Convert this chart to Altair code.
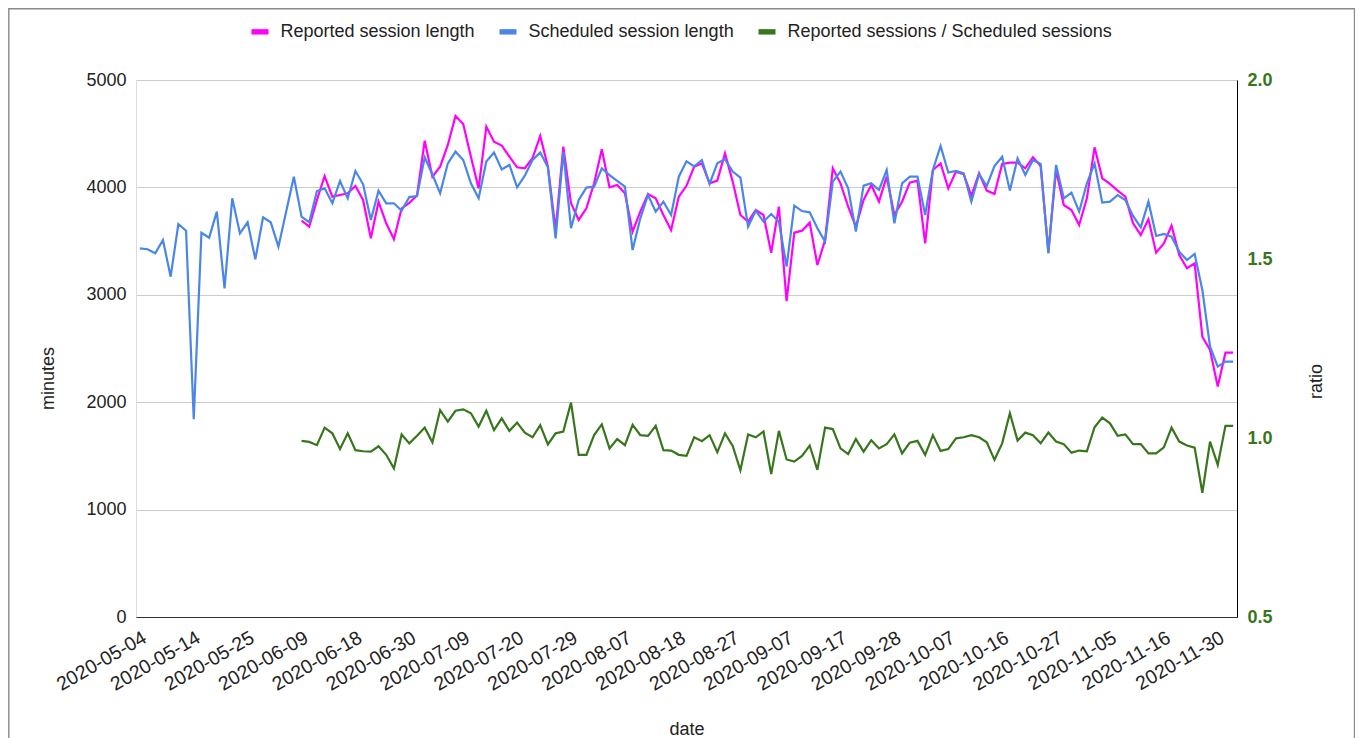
import altair as alt
import pandas as pd

# ---------------- data ----------------
dates = [
    "2020-05-04", "2020-05-05", "2020-05-06", "2020-05-07", "2020-05-08", "2020-05-11", "2020-05-12",
    "2020-05-14", "2020-05-15", "2020-05-18", "2020-05-19", "2020-05-20", "2020-05-21", "2020-05-22",
    "2020-05-25", "2020-05-26", "2020-05-27", "2020-05-28", "2020-06-01", "2020-06-03", "2020-06-05",
    "2020-06-09", "2020-06-10", "2020-06-11", "2020-06-12", "2020-06-15", "2020-06-16", "2020-06-17",
    "2020-06-18", "2020-06-19", "2020-06-22", "2020-06-23", "2020-06-24", "2020-06-25", "2020-06-29",
    "2020-06-30", "2020-07-01", "2020-07-02", "2020-07-03", "2020-07-06", "2020-07-07", "2020-07-08",
    "2020-07-09", "2020-07-10", "2020-07-13", "2020-07-14", "2020-07-15", "2020-07-16", "2020-07-17",
    "2020-07-20", "2020-07-21", "2020-07-22", "2020-07-23", "2020-07-24", "2020-07-27", "2020-07-28",
    "2020-07-29", "2020-07-30", "2020-07-31", "2020-08-03", "2020-08-04", "2020-08-05", "2020-08-06",
    "2020-08-07", "2020-08-10", "2020-08-11", "2020-08-12", "2020-08-13", "2020-08-14", "2020-08-17",
    "2020-08-18", "2020-08-19", "2020-08-20", "2020-08-21", "2020-08-24", "2020-08-25", "2020-08-26",
    "2020-08-27", "2020-08-28", "2020-08-31", "2020-09-01", "2020-09-02", "2020-09-03", "2020-09-04",
    "2020-09-07", "2020-09-08", "2020-09-09", "2020-09-10", "2020-09-11", "2020-09-14", "2020-09-16",
    "2020-09-17", "2020-09-18", "2020-09-21", "2020-09-22", "2020-09-23", "2020-09-24", "2020-09-25",
    "2020-09-28", "2020-09-29", "2020-09-30", "2020-10-01", "2020-10-02", "2020-10-05", "2020-10-06",
    "2020-10-07", "2020-10-08", "2020-10-09", "2020-10-12", "2020-10-13", "2020-10-14", "2020-10-15",
    "2020-10-16", "2020-10-19", "2020-10-20", "2020-10-21", "2020-10-22", "2020-10-23", "2020-10-26",
    "2020-10-27", "2020-10-28", "2020-10-29", "2020-10-30", "2020-11-02", "2020-11-03", "2020-11-04",
    "2020-11-05", "2020-11-06", "2020-11-09", "2020-11-10", "2020-11-11", "2020-11-12", "2020-11-13",
    "2020-11-16", "2020-11-17", "2020-11-18", "2020-11-19", "2020-11-20", "2020-11-23", "2020-11-24",
    "2020-11-30", "2020-12-01", "2020-12-02",
]

x_tick_labels = [
    "2020-05-04", "2020-05-14", "2020-05-25", "2020-06-09", "2020-06-18", "2020-06-30", "2020-07-09",
    "2020-07-20", "2020-07-29", "2020-08-07", "2020-08-18", "2020-08-27", "2020-09-07", "2020-09-17",
    "2020-09-28", "2020-10-07", "2020-10-16", "2020-10-27", "2020-11-05", "2020-11-16", "2020-11-30",
]

scheduled = [
    3433, 3424, 3386, 3510, 3169, 3659, 3597, 1841, 3578, 3532, 3774, 3060, 3898, 3572, 3675, 3330,
    3721, 3675, 3448, 3774, 4100, 3727, 3675, 3966, 3991, 3852, 4060, 3898, 4153, 4029, 3696, 3969,
    3852, 3852, 3783, 3910, 3920, 4280, 4120, 3945, 4224, 4333, 4255, 4038, 3898, 4240, 4324, 4168,
    4209, 4001, 4109, 4255, 4324, 4187, 3526, 4330, 3620, 3883, 3998, 4007, 4178, 4115, 4060, 4007,
    3417, 3712, 3929, 3774, 3867, 3743, 4100, 4243, 4196, 4255, 4032, 4224, 4262, 4147, 4091, 3634,
    3783, 3681, 3752, 3681, 3262, 3830, 3780, 3768, 3619, 3495, 4054, 4147, 3991, 3588, 4016, 4038,
    3976, 4162, 3666, 4038, 4100, 4100, 3743, 4162, 4386, 4138, 4153, 4131, 3867, 4123, 4013, 4199,
    4286, 3970, 4271, 4115, 4255, 4218, 3386, 4209, 3898, 3951, 3774, 4038, 4224, 3858, 3867, 3929,
    3883, 3734, 3628, 3867, 3548, 3566, 3541, 3402, 3324, 3380, 3045, 2517, 2331, 2378, 2378,
]

reported = [None] * 21 + [
    3690, 3634, 3883, 4106, 3914, 3929, 3945, 4013, 3883, 3526, 3867, 3666, 3517, 3805, 3856, 3925,
    4435, 4100, 4193, 4395, 4665, 4591, 4286, 3991, 4566, 4426, 4389, 4286, 4187, 4178, 4271, 4479,
    4193, 3603, 4380, 3852, 3697, 3805, 4038, 4355, 4001, 4023, 3945, 3588, 3774, 3939, 3898, 3743,
    3603, 3914, 4015, 4193, 4224, 4038, 4063, 4317, 4054, 3743, 3681, 3790, 3743, 3392, 3821, 2940,
    3579, 3597, 3672, 3277, 3510, 4178, 4038, 3821, 3634, 3883, 4023, 3867, 4100, 3743, 3867, 4045,
    4063, 3479, 4162, 4224, 3991, 4147, 4123, 3921, 4131, 3970, 3939, 4218, 4230, 4230, 4178, 4280,
    4199, 3400, 4162, 3836, 3790, 3650, 3898, 4373, 4085, 4032, 3970, 3914, 3666, 3557, 3703, 3392,
    3479, 3644, 3371, 3247, 3293, 2610, 2486, 2145, 2461, 2461,
]

ratio = [None] * 21 + [
    0.992, 0.989, 0.980, 1.029, 1.013, 0.969, 1.013, 0.966, 0.963, 0.962, 0.977, 0.953, 0.915, 1.010,
    0.985, 1.006, 1.029, 0.988, 1.078, 1.046, 1.076, 1.080, 1.069, 1.032, 1.076, 1.022, 1.055, 1.020,
    1.043, 1.015, 1.002, 1.036, 0.982, 1.013, 1.018, 1.099, 0.953, 0.953, 1.008, 1.038, 0.971, 0.997,
    0.980, 1.037, 1.008, 1.006, 1.034, 0.966, 0.965, 0.953, 0.950, 1.002, 0.991, 1.008, 0.960, 1.013,
    0.978, 0.910, 1.010, 1.002, 1.018, 0.899, 1.020, 0.940, 0.934, 0.950, 0.979, 0.911, 1.029, 1.025,
    0.971, 0.955, 0.997, 0.962, 0.994, 0.971, 0.983, 1.010, 0.957, 0.987, 0.992, 0.953, 1.008, 0.964,
    0.969, 0.999, 1.002, 1.008, 1.002, 0.988, 0.939, 0.985, 1.069, 0.993, 1.015, 1.008, 0.985, 1.015,
    0.990, 0.983, 0.959, 0.965, 0.963, 1.030, 1.057, 1.041, 1.006, 1.010, 0.983, 0.983, 0.957, 0.957,
    0.974, 1.029, 0.990, 0.979, 0.973, 0.847, 0.990, 0.925, 1.034, 1.034,
]

series_names = [
    "Reported session length",
    "Scheduled session length",
    "Reported sessions / Scheduled sessions",
]
series_colors = ["#ff00ff", "#4a86e8", "#38761d"]

minutes_ticks = [0, 1000, 2000, 3000, 4000, 5000]
ratio_ticks = [0.5, 1.0, 1.5, 2.0]

df = pd.DataFrame({"date": dates, "reported": reported, "scheduled": scheduled, "ratio": ratio})

# ---------------- style ----------------
FONT = "Liberation Sans"
TXT = "#222222"
W, H = 1101, 537

x_enc = alt.X(
    "date:O",
    sort=None,
    scale=alt.Scale(type="point", padding=0.5, domain=dates),
    axis=alt.Axis(
        values=x_tick_labels,
        labelAngle=330,
        labelAlign="right",
        labelBaseline="top",
        labelPadding=11,
        labelFont=FONT,
        labelFontSize=19.5,
        labelColor=TXT,
        ticks=False,
        grid=False,
        domain=True,
        domainColor="#333333",
        domainWidth=1,
        title="date",
        titleFont=FONT,
        titleFontSize=18,
        titleFontWeight="normal",
        titleColor=TXT,
        titleX=W / 2,
        titleY=112,
        titleBaseline="middle",
    ),
)

left_scale = alt.Scale(domain=[0, 5000], nice=False)
left_axis = alt.Axis(
    values=minutes_ticks,
    format="d",
    labelFont=FONT,
    labelFontSize=18,
    labelColor=TXT,
    labelPadding=10,
    ticks=False,
    domain=False,
    grid=True,
    gridColor="#cccccc",
    gridWidth=1,
    title="minutes",
    titleFont=FONT,
    titleFontSize=18,
    titleFontWeight="normal",
    titleColor=TXT,
    titleX=-88,
    titleY=298,
    titleAngle=270,
    titleBaseline="middle",
)

right_scale = alt.Scale(domain=[0.5, 2.0], nice=False)
right_axis = alt.Axis(
    orient="right",
    values=ratio_ticks,
    format=".1f",
    labelFont=FONT,
    labelFontSize=18,
    labelFontWeight="bold",
    labelColor="#38761d",
    labelPadding=10,
    ticks=False,
    domain=True,
    domainColor="#000000",
    domainWidth=1,
    grid=False,
    title="ratio",
    titleFont=FONT,
    titleFontSize=18,
    titleFontWeight="normal",
    titleColor=TXT,
    titleX=79,
    titleY=301,
    titleAngle=270,
    titleBaseline="middle",
)

color_enc = alt.Color(
    "series:N",
    scale=alt.Scale(domain=series_names, range=series_colors),
    legend=alt.Legend(
        title=None,
        orient="none",
        direction="horizontal",
        legendX=112.5,
        legendY=-60,
        padding=0,
        symbolType="stroke",
        symbolSize=289,
        symbolStrokeWidth=5.4,
        symbolOpacity=1,
        labelFont=FONT,
        labelFontSize=18,
        labelColor=TXT,
        labelOffset=9,
        labelLimit=0,
        columnPadding=13,
    ),
)

base = alt.Chart(df)

rep_line = (
    base.transform_filter("isValid(datum.reported)")
    .transform_calculate(series="'Reported session length'")
    .mark_line(strokeWidth=2.2)
    .encode(x=x_enc, y=alt.Y("reported:Q", scale=left_scale, axis=left_axis), color=color_enc)
)
sch_line = (
    base.transform_calculate(series="'Scheduled session length'")
    .mark_line(strokeWidth=2.2)
    .encode(x=x_enc, y=alt.Y("scheduled:Q", scale=left_scale, axis=left_axis), color=color_enc)
)
left_layer = alt.layer(rep_line, sch_line)

ratio_line = (
    base.transform_filter("isValid(datum.ratio)")
    .transform_calculate(series="'Reported sessions / Scheduled sessions'")
    .mark_line(strokeWidth=2.2)
    .encode(x=x_enc, y=alt.Y("ratio:Q", scale=right_scale, axis=right_axis), color=color_enc)
)

frame = (
    alt.Chart(pd.DataFrame({"k": [0]}))
    .mark_rect(filled=False, stroke="#8a8a8a", strokeWidth=1.4)
    .encode(
        x=alt.value(-127.2),
        x2=alt.value(W + 117.5),
        y=alt.value(-71.2),
        y2=alt.value(H + 140),
    )
)

chart = (
    alt.layer(left_layer, ratio_line, frame)
    .resolve_scale(y="independent")
    .properties(
        width=W,
        height=H,
        padding={"left": 128, "top": 72, "right": 118, "bottom": 121},
        autosize=alt.AutoSizeParams(type="none"),
    )
    .configure_view(stroke=None)
    .configure(background="white")
)

chart.save("out.html", embed_options={"renderer": "svg", "actions": False})
